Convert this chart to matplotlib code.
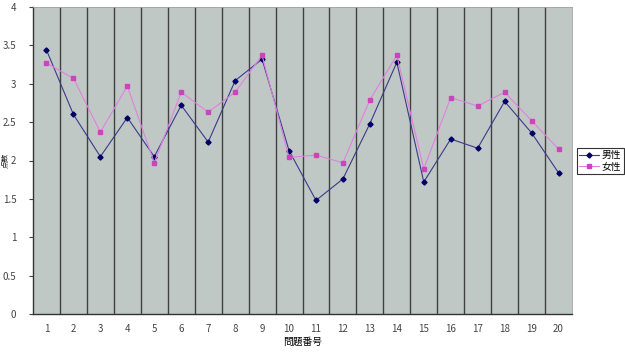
import matplotlib.pyplot as plt
import numpy as np

plt.rcParams['font.family'] = ['Noto Sans CJK JP', 'DejaVu Sans']

questions = list(range(1, 21))
male = [3.44, 2.60, 2.05, 2.56, 2.05, 2.72, 2.24, 3.04, 3.32, 2.13,
        1.48, 1.76, 2.48, 3.28, 1.72, 2.28, 2.16, 2.77, 2.36, 1.84]
female = [3.27, 3.07, 2.37, 2.97, 1.97, 2.89, 2.63, 2.89, 3.37, 2.04,
          2.07, 1.97, 2.79, 3.37, 1.89, 2.82, 2.71, 2.89, 2.52, 2.15]
yticks = [0, 0.5, 1, 1.5, 2, 2.5, 3, 3.5, 4]

fig = plt.figure(figsize=(6.25, 3.59), dpi=100)
ax = fig.add_axes([33 / 625, 1 - 314 / 359, 539 / 625, 307 / 359])
ax.set_facecolor('#c0c8c5')

x = np.array(questions)
ax.plot(x, male, color='#3a3a8a', lw=0.8, marker='D', ms=2.6,
        mfc='#000066', mec='#000066', label='男性')
ax.plot(x, female, color='#e080e0', lw=0.8, marker='s', ms=3.3,
        mfc='#cc44bb', mec='#cc44bb', label='女性')

ax.set_xlim(0.5, 20.5)
ax.set_ylim(0, 4)
ax.set_xticks(x)
ax.set_xticklabels([str(q) for q in questions])
ax.set_xticks(np.arange(1.5, 20.5, 1), minor=True)
ax.grid(True, which='minor', axis='x', color='#404040', lw=1.0)
ax.set_yticks(yticks)
ax.set_yticklabels(['0', '0.5', '1', '1.5', '2', '2.5', '3', '3.5', '4'])
ax.tick_params(axis='both', which='major', labelsize=7, colors='#444444',
               length=0, pad=7)
ax.tick_params(axis='x', which='minor', length=0)
ax.tick_params(axis='y', length=3, direction='out', pad=9)
for side in ['top', 'right']:
    ax.spines[side].set_color('#a0a0a0')
    ax.spines[side].set_linewidth(0.6)
for side in ['left', 'bottom']:
    ax.spines[side].set_color('#333333')
    ax.spines[side].set_linewidth(1.0)

ax.set_xlabel('問題番号', fontsize=7, labelpad=2)
fig.text(6 / 625, 1 - 160 / 359, '点数', fontsize=5.5, rotation=90,
         ha='center', va='center', color='#222222')

leg = ax.legend(loc='upper left', bbox_to_anchor=(577 / 625, 1 - 148 / 359),
                bbox_transform=fig.transFigure, fontsize=7, frameon=True,
                fancybox=False, edgecolor='black', handlelength=2.0,
                handletextpad=0.3, borderpad=0.25, labelspacing=0.15,
                borderaxespad=0)
leg.get_frame().set_linewidth(0.8)

fig.savefig('out.png', dpi=100)
